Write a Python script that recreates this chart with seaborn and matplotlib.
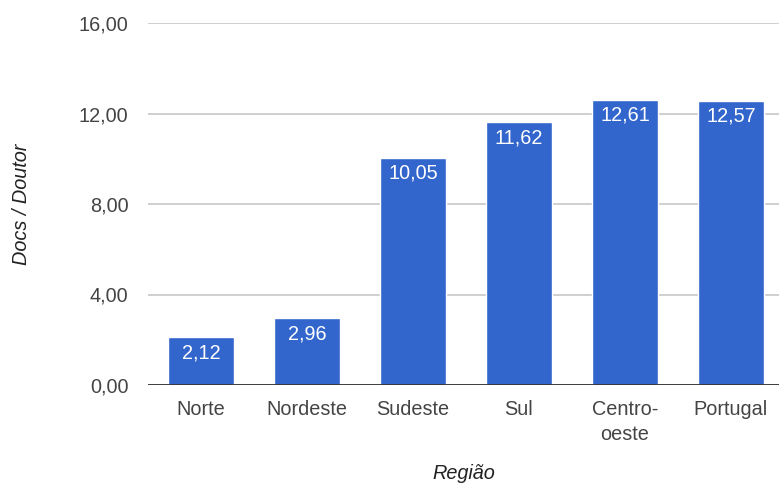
import matplotlib.pyplot as plt
import matplotlib.ticker as mticker
import seaborn as sns

# data
regioes = ["Norte", "Nordeste", "Sudeste", "Sul", "Centro-\noeste", "Portugal"]
docs_por_doutor = [2.12, 2.96, 10.05, 11.62, 12.61, 12.57]
y_ticks = [0, 4, 8, 12, 16]

BAR_COLOR = "#3366CC"
TICK_COLOR = "#444444"


def br_fmt(v, _pos=None):
    return f"{v:.2f}".replace(".", ",")


sns.set_theme(style="white")
plt.rcParams["font.family"] = ["Liberation Sans", "DejaVu Sans"]

fig = plt.figure(figsize=(7.79, 4.83), dpi=100)
ax = fig.add_axes([148 / 779, 1 - 385 / 483, 1 - 148 / 779, (385 - 23) / 483])

sns.barplot(x=regioes, y=docs_por_doutor, color=BAR_COLOR, saturation=1,
            width=0.63, ax=ax, zorder=3)

for i, v in enumerate(docs_por_doutor):
    ax.annotate(br_fmt(v), (i, v), xytext=(0, -4.5), textcoords="offset points",
                ha="center", va="top", color="white", fontsize=14.3, zorder=4)

ax.set_ylim(0, 16)
ax.set_xlim(-0.5, 5.453)
ax.set_yticks(y_ticks)
ax.yaxis.set_major_formatter(mticker.FuncFormatter(br_fmt))
ax.grid(axis="y", color="#cccccc", linewidth=1.3, zorder=0)
ax.axhline(0, color="#333333", linewidth=1.3, zorder=5)

for s in ["top", "right", "left", "bottom"]:
    ax.spines[s].set_visible(False)

ax.tick_params(axis="both", length=0, labelsize=14.3, colors=TICK_COLOR)
ax.tick_params(axis="y", pad=14)
ax.tick_params(axis="x", pad=11)
for lbl in ax.get_xticklabels():
    lbl.set_linespacing(1.4)

ax.set_ylabel("Docs / Doutor", fontsize=14.3, style="italic", color="#222222")
ax.set_xlabel("Região", fontsize=14.3, style="italic", color="#222222")
ax.yaxis.set_label_coords(-0.185, 0.5)
ax.xaxis.set_label_coords(0.5, -0.218)

fig.savefig("out.png", dpi=100)
